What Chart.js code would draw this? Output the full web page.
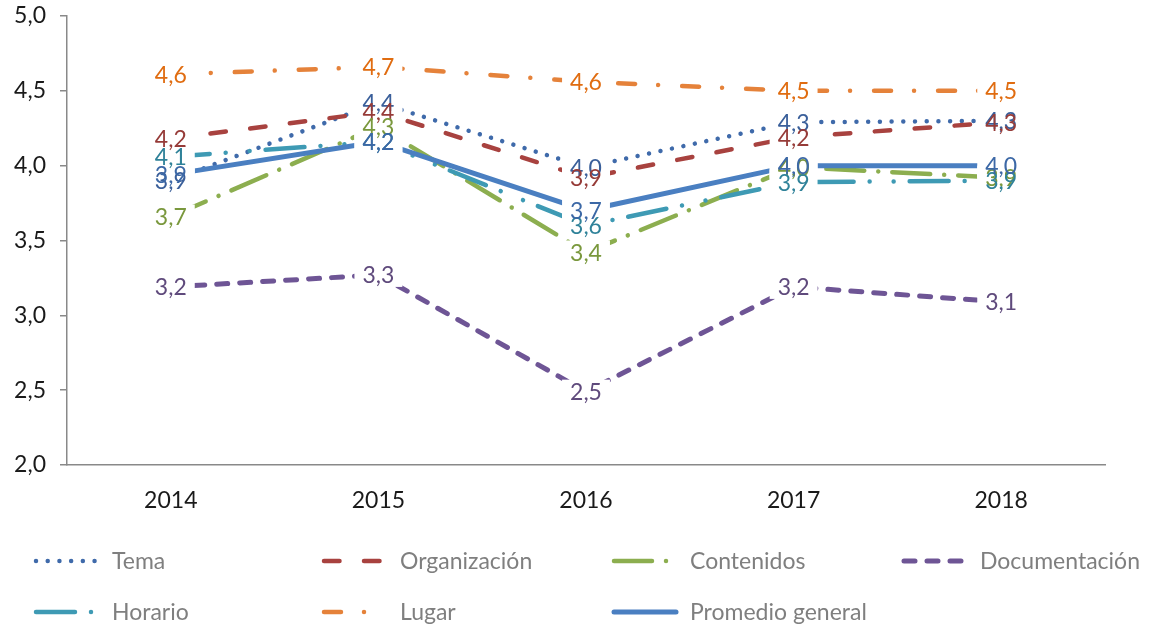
<!DOCTYPE html>
<html><head><meta charset="utf-8">
<script src="https://cdn.jsdelivr.net/npm/chart.js@4.4.0/dist/chart.umd.min.js"></script>
<style>html,body{margin:0;padding:0;background:#fff}#wrap{width:1155px;height:629px;position:relative}</style>
</head><body><div id="wrap"><canvas id="c" width="1155" height="629"></canvas></div>
<script>
const years = ['2014', '2015', '2016', '2017', '2018'];
const tema = [3.90, 4.42, 3.99, 4.29, 4.30];
const organizacion = [4.18, 4.36, 3.92, 4.19, 4.29];
const contenidos = [3.66, 4.26, 3.42, 3.99, 3.92];
const documentacion = [3.19, 3.27, 2.49, 3.19, 3.09];
const horario = [4.06, 4.16, 3.60, 3.89, 3.90];
const lugar = [4.61, 4.66, 4.56, 4.50, 4.50];
const promedio = [3.94, 4.16, 3.70, 4.00, 4.00];
const seriesNames = ['Tema', 'Organización', 'Contenidos', 'Documentación', 'Horario', 'Lugar', 'Promedio general'];
const seriesValues = [tema, organizacion, contenidos, documentacion, horario, lugar, promedio];

const styles = [
  {line:'#3F6AAA', text:'#3A5F9A', dash:[0.01, 11.7], w:4.5},
  {line:'#A8423F', text:'#963B38', dash:[15.5, 24.5], w:4.5},
  {line:'#8CAE4F', text:'#7A983D', dash:[38, 14, 0.01, 14], w:4.5},
  {line:'#6E5595', text:'#5F4A7C', dash:[11, 12], w:5},
  {line:'#3E9AB4', text:'#2F8299', dash:[39, 16, 0.01, 24, 0.01, 16], w:4.5},
  {line:'#E5823A', text:'#E06C10', dash:[17, 23, 0.01, 24], w:4.5},
  {line:'#4A7FC1', text:'#3C68A6', dash:[], w:5}
];
const FONT = 'Lato';
const fmt = v => v.toFixed(1).replace('.', ',');

const datasets = seriesValues.map((vals, i) => ({
  label: seriesNames[i],
  data: vals,
  borderColor: styles[i].line,
  backgroundColor: styles[i].line,
  borderWidth: styles[i].w,
  borderDash: styles[i].dash,
  borderCapStyle: 'round',
  borderJoinStyle: 'round',
  pointRadius: 0,
  tension: 0,
  fill: false,
  order: seriesValues.length - 1 - i
}));

const labelPlugin = {
  id: 'labelPlugin',
  afterDatasetsDraw(chart) {
    const ctx = chart.ctx;
    ctx.save();
    ctx.font = '23px ' + FONT;
    ctx.textAlign = 'center';
    ctx.textBaseline = 'middle';
    const items = [];
    chart.data.datasets.forEach((ds, i) => {
      const meta = chart.getDatasetMeta(i);
      meta.data.forEach((pt, j) => {
        const t = fmt(ds.data[j]);
        const w = ctx.measureText(t).width;
        items.push({x: pt.x, y: pt.y, t, w, c: styles[i].text});
      });
    });
    ctx.fillStyle = '#ffffff';
    items.forEach(it => ctx.fillRect(it.x - it.w / 2 - 8, it.y - 12, it.w + 16, 24));
    items.forEach(it => { ctx.fillStyle = it.c; ctx.fillText(it.t, it.x, it.y + 1); });
    ctx.restore();
  }
};

const legendPlugin = {
  id: 'legendPlugin',
  afterDraw(chart) {
    const ctx = chart.ctx;
    const cols = [34, 322, 612, 902];
    const rows = [561, 612];
    ctx.save();
    seriesNames.forEach((name, i) => {
      const x0 = cols[i % 4];
      const y = rows[Math.floor(i / 4)];
      ctx.beginPath();
      ctx.setLineDash(styles[i].dash);
      ctx.lineCap = 'round';
      ctx.lineWidth = styles[i].w;
      ctx.strokeStyle = styles[i].line;
      ctx.moveTo(x0 + 2, y);
      ctx.lineTo(x0 + 64, y);
      ctx.stroke();
      ctx.setLineDash([]);
      ctx.font = '23px ' + FONT;
      ctx.fillStyle = '#7F7F7F';
      ctx.textAlign = 'left';
      ctx.textBaseline = 'middle';
      ctx.fillText(name, x0 + 78, y + 1);
    });
    ctx.restore();
  }
};

new Chart(document.getElementById('c'), {
  type: 'line',
  data: { labels: years, datasets },
  options: {
    responsive: false,
    devicePixelRatio: 1,
    animation: false,
    layout: { padding: { top: 16, right: 50, left: 0, bottom: 0 } },
    plugins: { legend: { display: false }, tooltip: { enabled: false } },
    scales: {
      x: {
        offset: true,
        grid: { display: true, drawOnChartArea: false, drawTicks: false, color: '#898989' },
        border: { display: true, color: '#898989', width: 1.5 },
        ticks: { padding: 22, color: '#1a1a1a', font: { family: FONT, size: 23 } },
        afterFit: s => { s.height = 164; s.paddingLeft = 0; s.paddingRight = 0; }
      },
      y: {
        min: 2, max: 5,
        grid: { display: true, drawOnChartArea: false, tickLength: 7, color: '#898989', lineWidth: 1.5 },
        border: { display: true, color: '#898989', width: 1.5 },
        ticks: { stepSize: 0.5, padding: 14, color: '#1a1a1a', font: { family: FONT, size: 23 }, callback: v => fmt(v) },
        afterFit: s => { s.width = 67; s.paddingTop = 0; s.paddingBottom = 0; }
      }
    }
  },
  plugins: [labelPlugin, legendPlugin]
});
</script>
</body></html>
